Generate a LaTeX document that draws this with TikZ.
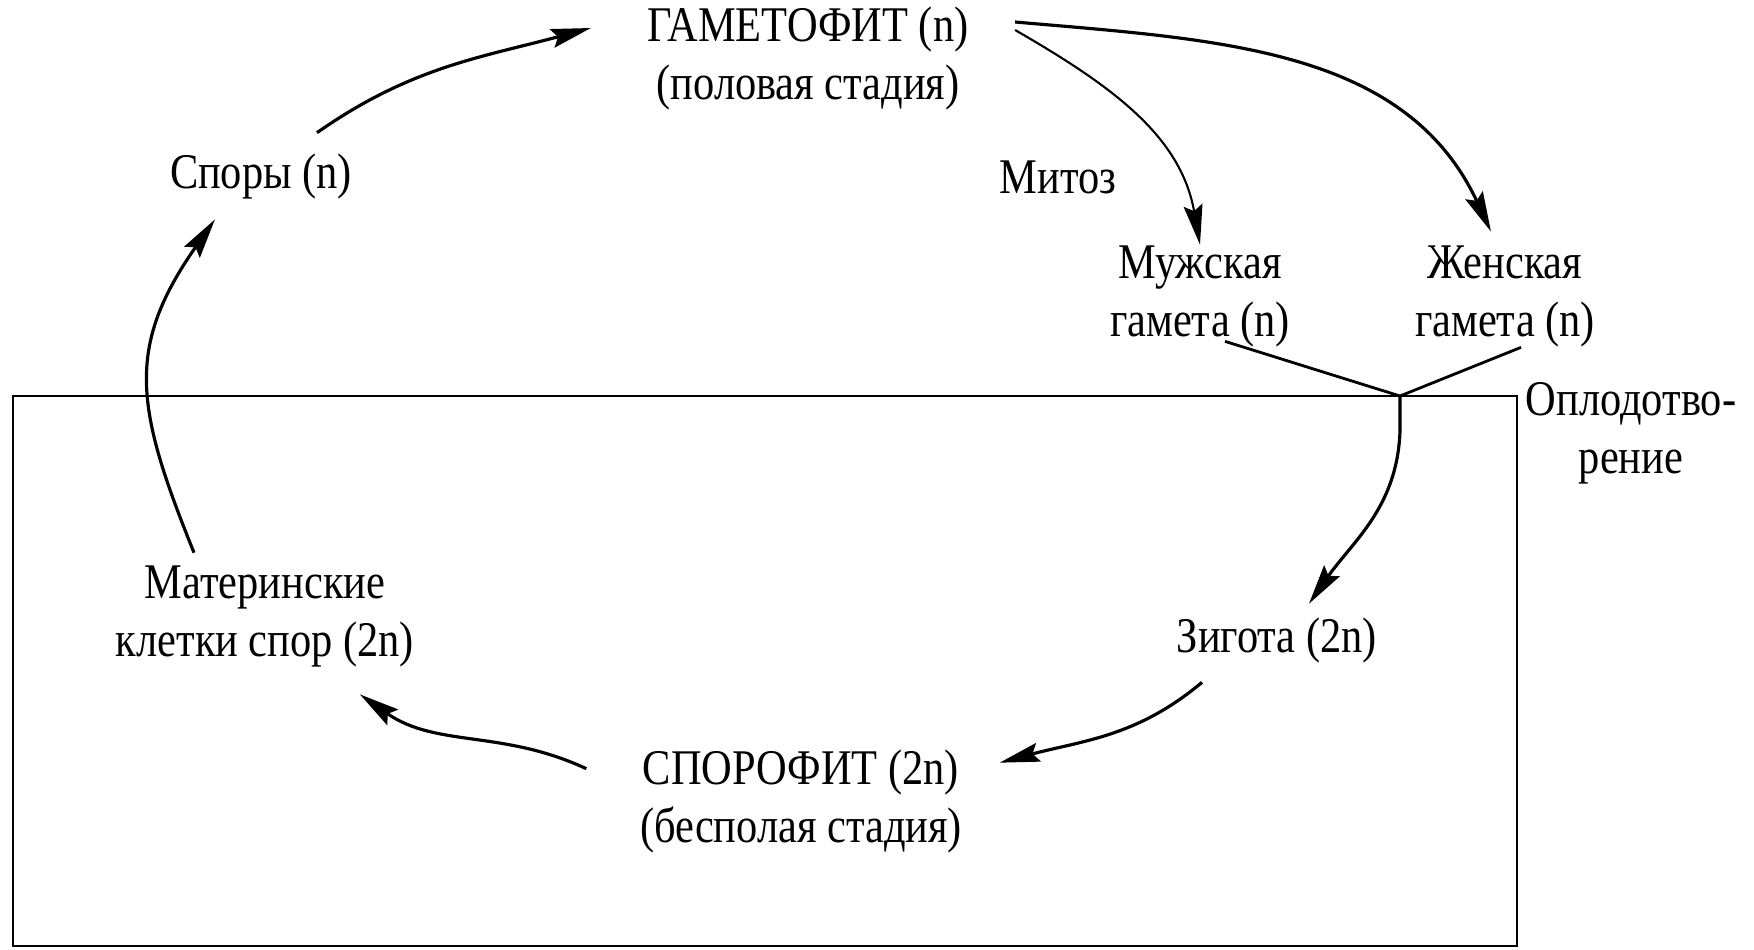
\documentclass[tikz,border=0pt]{standalone}
\usepackage{fontspec}
\setmainfont{Liberation Serif}[FakeStretch=0.85]
\usetikzlibrary{arrows.meta}

\begin{document}
\begin{tikzpicture}[
    lbl/.style={inner sep=0pt, align=center, font=\fontsize{14.2}{16.5}\selectfont},
    cyc/.style={line width=0.9pt, -{Stealth[length=4mm, width=1.9mm, inset=0.6mm]}}
]
            \useasboundingbox (0,0) rectangle (17.54,-9.49);

            % Frame
            \draw[line width=0.8pt] (0.13,-3.96) rectangle (15.17,-9.46);

            % Nodes
            \node[lbl] (gam) at (8.08,-0.58) {ГАМЕТОФИТ (n)\\(половая стадия)};
            \node[lbl] (spores) at (2.61,-1.76) {Споры (n)};
            \node[lbl] (mitoz) at (10.58,-1.77) {Митоз};
            \node[lbl] (male) at (12.00,-2.96) {Мужская\\гамета (n)};
            \node[lbl] (female) at (15.05,-2.96) {Женская\\гамета (n)};
            \node[lbl] (fert) at (16.31,-4.33) {Оплодотво-\\рение};
            \node[lbl] (mother) at (2.65,-6.16) {Материнские\\клетки спор (2n)};
            \node[lbl] (zygote) at (12.77,-6.40) {Зигота (2n)};
            \node[lbl] (sporo) at (8.01,-8.01) {СПОРОФИТ (2n)\\(бесполая стадия)};
            \coordinate (meet) at (14.00,-3.96);

            % Lines
            \draw[cyc] ([xshift=5.6mm,yshift=2mm]spores.north) to[out=35,in=195] ([xshift=-5.6mm,yshift=3mm]gam.west);
            \draw[cyc, line width=0.6pt] ([xshift=4.6mm,yshift=2.8mm]gam.east) to[out=-30,in=100] (male.north);
            \draw[cyc] ([xshift=4.6mm,yshift=3.6mm]gam.east) to[out=-5,in=115] ([xshift=-1.4mm,yshift=1.3mm]female.north);
            \draw[line width=0.8pt] ([xshift=2.5mm,yshift=0.6mm]male.south) -- (meet);
            \draw[line width=0.8pt] ([xshift=1.6mm]female.south) -- (meet);
            \draw[cyc] (meet) -- ++(0,-0.35) to[out=-92,in=55] ([xshift=3.2mm,yshift=1.3mm]zygote.north);
            \draw[cyc] ([xshift=-7.5mm,yshift=-1.9mm]zygote.south) to[out=220,in=15] ([xshift=3.7mm,yshift=-1.4mm]sporo.north east);
            \draw[cyc] ([xshift=-5.3mm,yshift=-2mm]sporo.north west) to[out=155,in=-35] ([xshift=-5.5mm,yshift=-2.7mm]mother.south east);
            \draw[cyc] ([xshift=-7.1mm,yshift=1.2mm]mother.north) to[out=112,in=235,looseness=1.2] ([xshift=-4.6mm,yshift=-2mm]spores.south);

\end{tikzpicture}
\end{document}
